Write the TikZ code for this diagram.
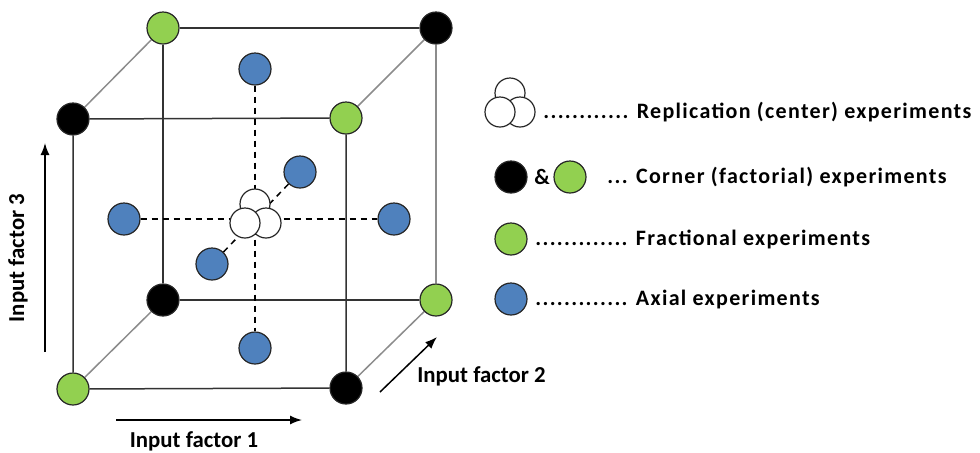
\documentclass[tikz,border=0pt]{standalone}
\usepackage{fontspec}
\setmainfont{Carlito}
\newfontfamily\legendfont{Carlito}[LetterSpace=6]
\usetikzlibrary{arrows.meta,backgrounds}
\definecolor{fracgreen}{RGB}{146,208,80}
\definecolor{axialblue}{RGB}{79,129,189}
\tikzset{
  run/.style={circle,draw=black!85,line width=0.6pt,minimum size=16pt,inner sep=0pt},
  blk/.style={run,fill=black},
  grn/.style={run,fill=fracgreen},
  blu/.style={run,fill=axialblue},
  wht/.style={run,fill=white,minimum size=15pt},
  edge/.style={line width=0.75pt,color=black!80},
  depth/.style={line width=0.75pt,color=black!45},
  axis/.style={line width=0.75pt,dash pattern=on 3pt off 2.5pt},
  factor/.style={line width=0.75pt,-{Latex[length=6pt,width=4.5pt]}},
  lbl/.style={font=\fontsize{11.4}{13}\selectfont\bfseries,inner sep=0pt},
  leg/.style={font=\legendfont\fontsize{11}{13}\selectfont\bfseries,inner sep=0pt,anchor=west},
}
\begin{document}
\begin{tikzpicture}[x=0.5pt,y=-0.5pt]
\useasboundingbox (0,0) rectangle (980,452);
% corners of the cube
\node[grn] (btl) at (163,28) {};
\node[blk] (btr) at (436,28) {};
\node[blk] (bbl) at (163,300) {};
\node[grn] (bbr) at (436,300) {};
\node[blk] (ftl) at (73,119) {};
\node[grn] (ftr) at (346,118) {};
\node[grn] (fbl) at (73,389) {};
\node[blk] (fbr) at (346,388) {};
% axial points
\node[blu] (axt) at (255,69) {};
\node[blu] (axb) at (255,348) {};
\node[blu] (axl) at (124,219) {};
\node[blu] (axr) at (394,219) {};
\node[blu] (axf) at (212,264) {};
\node[blu] (axk) at (300,172) {};
% centre replicates
\node[wht] (cnt) at (255,204) {};
\node[wht] (cnr) at (266,223) {};
\node[wht] (cnl) at (245,223) {};
\begin{pgfonlayer}{background}
\draw[edge] (btl) -- (btr);
\draw[edge] (bbl) -- (bbr);
\draw[edge] (btl) -- (bbl);
\draw[depth] (btr) -- (bbr);
\draw[edge] (ftl) -- (ftr) -- (fbr) -- (fbl) -- (ftl);
\draw[depth] (ftl) -- (btl);
\draw[depth] (ftr) -- (btr);
\draw[depth] (fbl) -- (bbl);
\draw[depth] (fbr) -- (bbr);
\draw[axis] (axt) -- (axb);
\draw[axis] (axl) -- (axr);
\draw[axis] (axf) -- (axk);
\end{pgfonlayer}
% factor arrows
\coordinate (f1s) at (116,420);
\coordinate (f1e) at (302,420);
\coordinate (f2s) at (380,392);
\coordinate (f2e) at (437,337);
\coordinate (f3s) at (45,352);
\coordinate (f3e) at (45,143);
\draw[factor] (f1s) -- (f1e);
\draw[factor] (f2s) -- (f2e);
\draw[factor] (f3s) -- (f3e);
\node[lbl] (f1lbl) at (194,441) {Input factor 1};
\node[lbl,anchor=west] (f2lbl) at (417,376) {Input factor 2};
\node[lbl,rotate=90] (f3lbl) at (18,258) {Input factor 3};
% legend
\node[wht] (lgt) at (510,93) {};
\node[wht] (lgr) at (520,112) {};
\node[wht] (lgl) at (500,112) {};
\node[leg] (lgrep) at (543,112) {............ Replication (center) experiments};
\node[blk] (lgblk) at (511,177) {};
\node[leg,anchor=center] (lgamp) at (542,177) {\&};
\node[grn] (lggrn) at (570,177) {};
\node[leg] (lgcor) at (607,177) {... Corner (factorial) experiments};
\node[grn] (lgfrc) at (511,239) {};
\node[leg] (lgfrct) at (535,239) {............. Fractional experiments};
\node[blu] (lgax) at (511,299) {};
\node[leg] (lgaxt) at (535,299) {............. Axial experiments};
\end{tikzpicture}
\end{document}
